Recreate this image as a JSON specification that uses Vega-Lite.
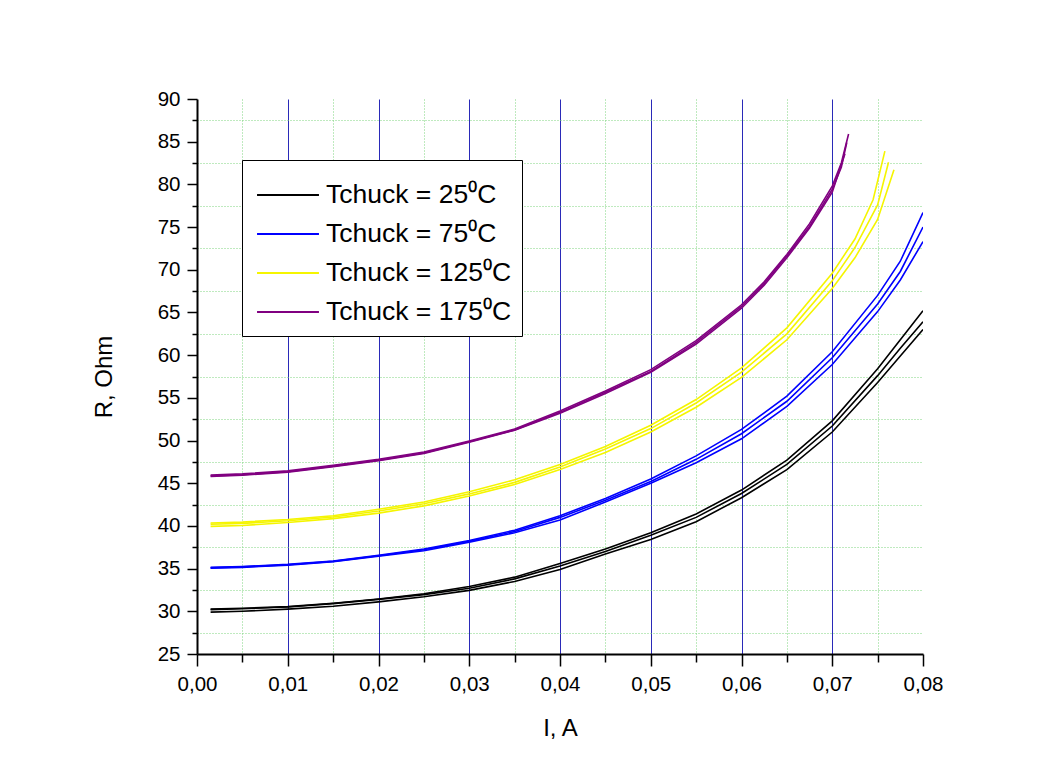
{
  "$schema": "https://vega.github.io/schema/vega-lite/v6.json",
  "autosize": "none",
  "width": 726,
  "height": 555,
  "padding": {"left": 197, "top": 99, "right": 132, "bottom": 126},
  "background": "#ffffff",
  "config": {
    "view": {"stroke": null},
    "font": "Liberation Sans"
  },
  "data": {
    "values": [
      {"g": "Tchuck = 25⁰C", "r": "a", "I": [0.0015,0.005,0.01,0.015,0.02,0.025,0.03,0.035,0.04,0.045,0.05,0.055,0.06,0.065,0.07,0.075,0.0775,0.08], "R": [30.25,30.35,30.55,30.95,31.45,32.05,32.9,34.0,35.6,37.3,39.2,41.4,44.2,47.7,52.3,58.4,61.8,65.2]},
      {"g": "Tchuck = 25⁰C", "r": "b", "I": [0.0015,0.005,0.01,0.015,0.02,0.025,0.03,0.035,0.04,0.045,0.05,0.055,0.06,0.065,0.07,0.075,0.0775,0.08], "R": [30.2,30.3,30.5,30.9,31.4,31.95,32.7,33.8,35.3,37.0,38.9,41.0,43.8,47.2,51.7,57.6,60.8,63.9]},
      {"g": "Tchuck = 25⁰C", "r": "c", "I": [0.0015,0.005,0.01,0.015,0.02,0.025,0.03,0.035,0.04,0.045,0.05,0.055,0.06,0.065,0.07,0.075,0.0775,0.08], "R": [29.9,30.0,30.25,30.6,31.1,31.7,32.45,33.5,34.9,36.7,38.4,40.5,43.3,46.6,51.0,56.8,59.9,63.0]},
      {"g": "Tchuck = 75⁰C", "r": "a", "I": [0.0015,0.005,0.01,0.015,0.02,0.025,0.03,0.035,0.04,0.045,0.05,0.055,0.06,0.065,0.07,0.075,0.0775,0.08], "R": [35.15,35.25,35.5,35.9,36.55,37.3,38.3,39.5,41.2,43.2,45.5,48.2,51.3,55.2,60.4,67.0,71.0,76.7]},
      {"g": "Tchuck = 75⁰C", "r": "b", "I": [0.0015,0.005,0.01,0.015,0.02,0.025,0.03,0.035,0.04,0.045,0.05,0.055,0.06,0.065,0.07,0.075,0.0775,0.08], "R": [35.1,35.2,35.45,35.85,36.5,37.2,38.2,39.35,41.0,43.0,45.2,47.8,50.8,54.6,59.7,66.0,69.8,75.0]},
      {"g": "Tchuck = 75⁰C", "r": "c", "I": [0.0015,0.005,0.01,0.015,0.02,0.025,0.03,0.035,0.04,0.045,0.05,0.055,0.06,0.065,0.07,0.075,0.0775,0.08], "R": [35.05,35.15,35.4,35.8,36.45,37.1,38.1,39.2,40.7,42.8,45.0,47.4,50.2,54.0,58.9,65.1,68.8,73.3]},
      {"g": "Tchuck = 125⁰C", "r": "a", "I": [0.0015,0.005,0.01,0.015,0.02,0.025,0.03,0.035,0.04,0.045,0.05,0.055,0.06,0.065,0.07,0.0725,0.0745,0.0758], "R": [40.35,40.45,40.75,41.2,41.95,42.8,44.0,45.4,47.2,49.3,51.8,54.8,58.5,63.2,69.6,73.6,78.2,83.9]},
      {"g": "Tchuck = 125⁰C", "r": "b", "I": [0.0015,0.005,0.01,0.015,0.02,0.025,0.03,0.035,0.04,0.045,0.05,0.055,0.06,0.065,0.07,0.0725,0.075,0.0762], "R": [40.2,40.3,40.6,41.05,41.75,42.6,43.75,45.1,46.9,49.0,51.4,54.4,58.0,62.5,68.7,72.6,77.6,82.6]},
      {"g": "Tchuck = 125⁰C", "r": "c", "I": [0.0015,0.005,0.01,0.015,0.02,0.025,0.03,0.035,0.04,0.045,0.05,0.055,0.06,0.065,0.07,0.0725,0.075,0.0768], "R": [39.95,40.05,40.4,40.85,41.5,42.35,43.5,44.85,46.6,48.6,51.0,53.9,57.4,61.8,67.8,71.4,75.9,81.7]},
      {"g": "Tchuck = 175⁰C", "r": "a", "I": [0.0015,0.005,0.01,0.015,0.02,0.025,0.03,0.035,0.04,0.045,0.05,0.055,0.06,0.0625,0.065,0.0675,0.07,0.071,0.0718], "R": [45.95,46.1,46.45,47.1,47.8,48.65,49.95,51.35,53.45,55.8,58.3,61.7,65.9,68.6,71.8,75.4,79.8,82.5,85.9]},
      {"g": "Tchuck = 175⁰C", "r": "b", "I": [0.0015,0.005,0.01,0.015,0.02,0.025,0.03,0.035,0.04,0.045,0.05,0.055,0.06,0.0625,0.065,0.0675,0.07,0.071,0.0716], "R": [45.85,46.0,46.35,47.0,47.7,48.55,49.85,51.25,53.3,55.65,58.1,61.5,65.7,68.4,71.6,75.1,79.4,82.0,84.9]},
      {"g": "Tchuck = 175⁰C", "r": "c", "I": [0.0015,0.005,0.01,0.015,0.02,0.025,0.03,0.035,0.04,0.045,0.05,0.055,0.06,0.0625,0.065,0.0675,0.07,0.0714], "R": [45.8,45.95,46.3,46.95,47.65,48.5,49.8,51.2,53.2,55.5,58.0,61.3,65.5,68.2,71.4,74.9,79.1,83.6]}
    ]
  },
  "transform": [{"flatten": ["I", "R"]}],
  "mark": {"type": "line", "strokeWidth": 1.6, "clip": true},
  "encoding": {
    "x": {
      "field": "I", "type": "quantitative",
      "scale": {"domain": [0, 0.08], "nice": false, "zero": false},
      "axis": {
        "title": "I, A",
        "titleFontSize": 24, "titleFontWeight": "normal", "titleColor": "#000000", "titlePadding": 22,
        "values": [0,0.005,0.01,0.015,0.02,0.025,0.03,0.035,0.04,0.045,0.05,0.055,0.06,0.065,0.07,0.075,0.08],
        "labelExpr": "round(datum.value*1000) % 10 == 0 ? replace(format(datum.value, '.2f'), '.', ',') : ''",
        "labelFontSize": 20.5, "labelColor": "#000000", "labelPadding": 8, "labelFlush": false,
        "domainColor": "#000000", "domainWidth": 2,
        "tickColor": "#000000", "tickWidth": 1.5,
        "tickSize": {"condition": {"test": "round(datum.value*1000) % 10 != 0", "value": 8}, "value": 12},
        "grid": true,
        "gridColor": {"condition": {"test": "round(datum.value*1000) % 10 != 0", "value": "#7fd47f"}, "value": "#2a2ab8"},
        "gridDash": {"condition": {"test": "round(datum.value*1000) % 10 != 0", "value": [1, 2]}, "value": []},
        "gridOpacity": {"condition": {"test": "datum.value <= 0.0001 || datum.value >= 0.0799", "value": 0}, "value": 1},
        "gridWidth": 1
      }
    },
    "y": {
      "field": "R", "type": "quantitative",
      "scale": {"domain": [25, 90], "nice": false, "zero": false},
      "axis": {
        "title": "R, Ohm",
        "titleFontSize": 24, "titleFontWeight": "normal", "titleColor": "#000000", "titlePadding": 41,
        "values": [25,27.5,30,32.5,35,37.5,40,42.5,45,47.5,50,52.5,55,57.5,60,62.5,65,67.5,70,72.5,75,77.5,80,82.5,85,87.5,90],
        "labelExpr": "datum.value % 5 == 0 ? format(datum.value, 'd') : ''",
        "labelFontSize": 20.5, "labelColor": "#000000", "labelPadding": 7, "labelFlush": false,
        "domainColor": "#000000", "domainWidth": 2,
        "tickColor": "#000000", "tickWidth": 1.5,
        "tickSize": {"condition": {"test": "datum.value % 5 != 0", "value": 5}, "value": 10},
        "grid": true,
        "gridColor": "#7fd47f",
        "gridDash": [1, 2],
        "gridOpacity": {"condition": {"test": "datum.value % 5 == 0", "value": 0}, "value": 1},
        "gridWidth": 1
      }
    },
    "color": {
      "field": "g", "type": "nominal",
      "scale": {
        "domain": ["Tchuck = 25⁰C", "Tchuck = 75⁰C", "Tchuck = 125⁰C", "Tchuck = 175⁰C"],
        "range": ["#000000", "#0000ff", "#f5f500", "#800080"]
      },
      "legend": {
        "title": null,
        "orient": "none",
        "legendX": 45,
        "legendY": 61,
        "direction": "vertical",
        "fillColor": "#ffffff",
        "strokeColor": "#000000",
        "padding": 10,
        "symbolOffset": 11,
        "symbolType": "M-1.29,0H1.29",
        "symbolSize": 2304,
        "symbolStrokeWidth": 2,
        "labelFontSize": 26.5,
        "labelColor": "#000000",
        "labelOffset": 13,
        "labelLimit": 400,
        "labelExpr": "datum.label + '\u00a0\u00a0\u00a0'",
        "rowPadding": 0
      }
    },
    "detail": {"field": "r", "type": "nominal"},
    "order": {"field": "I", "type": "quantitative"}
  }
}
